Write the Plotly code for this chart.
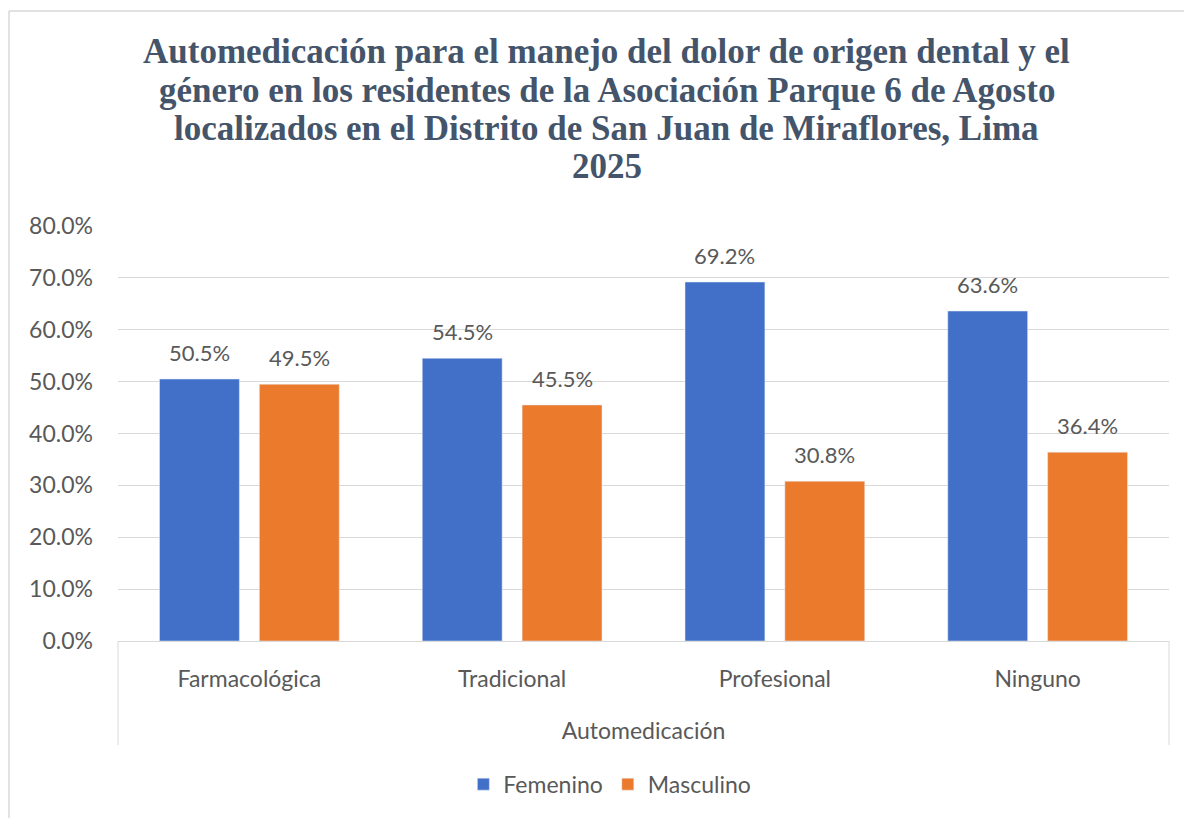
import plotly.graph_objects as go

categorias = ["Farmacológica", "Tradicional", "Profesional", "Ninguno"]
femenino = [0.505, 0.545, 0.692, 0.636]
masculino = [0.495, 0.455, 0.308, 0.364]
ticks_y = [0, 0.1, 0.2, 0.3, 0.4, 0.5, 0.6, 0.7, 0.8]

titulo = ["Automedicación para el manejo del dolor de origen dental y el",
          "género en los residentes de la Asociación Parque 6 de Agosto",
          "localizados en el Distrito de San Juan de Miraflores, Lima",
          "2025"]

GRIS = '#595959'
FUENTE = 'Lato'
ALTO_PLOT = 415  # alto del area de trazado en px

fig = go.Figure()
fig.add_trace(go.Bar(x=categorias, y=femenino, name="Femenino", marker_color='#4270C8'))
fig.add_trace(go.Bar(x=categorias, y=masculino, name="Masculino", marker_color='#EC7A2D'))

# etiquetas de datos encima de cada barra
for serie, desplaz in ((femenino, -50), (masculino, 50)):
    for cat, val in zip(categorias, serie):
        fig.add_annotation(x=cat, y=val, text=f"{val*100:.1f}%", showarrow=False,
                           xshift=desplaz, yshift=11, yanchor='bottom',
                           font=dict(family=FUENTE, size=22, color=GRIS))

# titulo en lineas separadas (interlineado ajustado)
for i, linea in enumerate(titulo):
    fig.add_annotation(text=f"<b>{linea}</b>", xref='paper', yref='paper',
                       x=0.465, xanchor='center', y=(641 - 52 - 38 * i) / ALTO_PLOT, yanchor='middle',
                       showarrow=False, font=dict(family='Liberation Serif', size=35, color='#44546A'))

fig.update_layout(
    width=1184, height=810,
    paper_bgcolor='white', plot_bgcolor='white',
    margin=dict(l=110, r=23, t=218, b=177),
    bargap=0.24, bargroupgap=0.2,
    showlegend=True,
    legend=dict(orientation='h', x=0.468, xanchor='center', y=-0.345, yanchor='middle',
                font=dict(family=FUENTE, size=23, color=GRIS), itemwidth=30),
    font=dict(family=FUENTE, color=GRIS),
)
fig.update_yaxes(range=[0, 0.8], tickvals=ticks_y, tickformat='.1%',
                 showgrid=True, gridcolor='#D9D9D9', gridwidth=1, zeroline=False,
                 ticks='', ticklabelstandoff=24, showline=False,
                 tickfont=dict(family=FUENTE, size=23, color=GRIS))
fig.update_xaxes(showline=True, linecolor='#D9D9D9', linewidth=1, ticks='',
                 ticklabelstandoff=17,
                 tickfont=dict(family=FUENTE, size=23, color=GRIS),
                 title=dict(text="Automedicación", standoff=32,
                            font=dict(family=FUENTE, size=23, color=GRIS)))

# lineas verticales del eje de categorias
for xp in (0, 1):
    fig.add_shape(type='line', xref='paper', yref='paper', x0=xp, x1=xp, y0=0, y1=-104 / ALTO_PLOT,
                  line=dict(color='#D9D9D9', width=1))

# borde del area del grafico
borde_x = -109 / 1051
borde_y = (641 - 11) / ALTO_PLOT
fig.add_shape(type='line', xref='paper', yref='paper', x0=borde_x, x1=1.03, y0=borde_y, y1=borde_y,
              line=dict(color='#D9D9D9', width=1.5))
fig.add_shape(type='line', xref='paper', yref='paper', x0=borde_x, x1=borde_x, y0=borde_y, y1=-1,
              line=dict(color='#D9D9D9', width=1.5))

fig.write_html("out.html")
